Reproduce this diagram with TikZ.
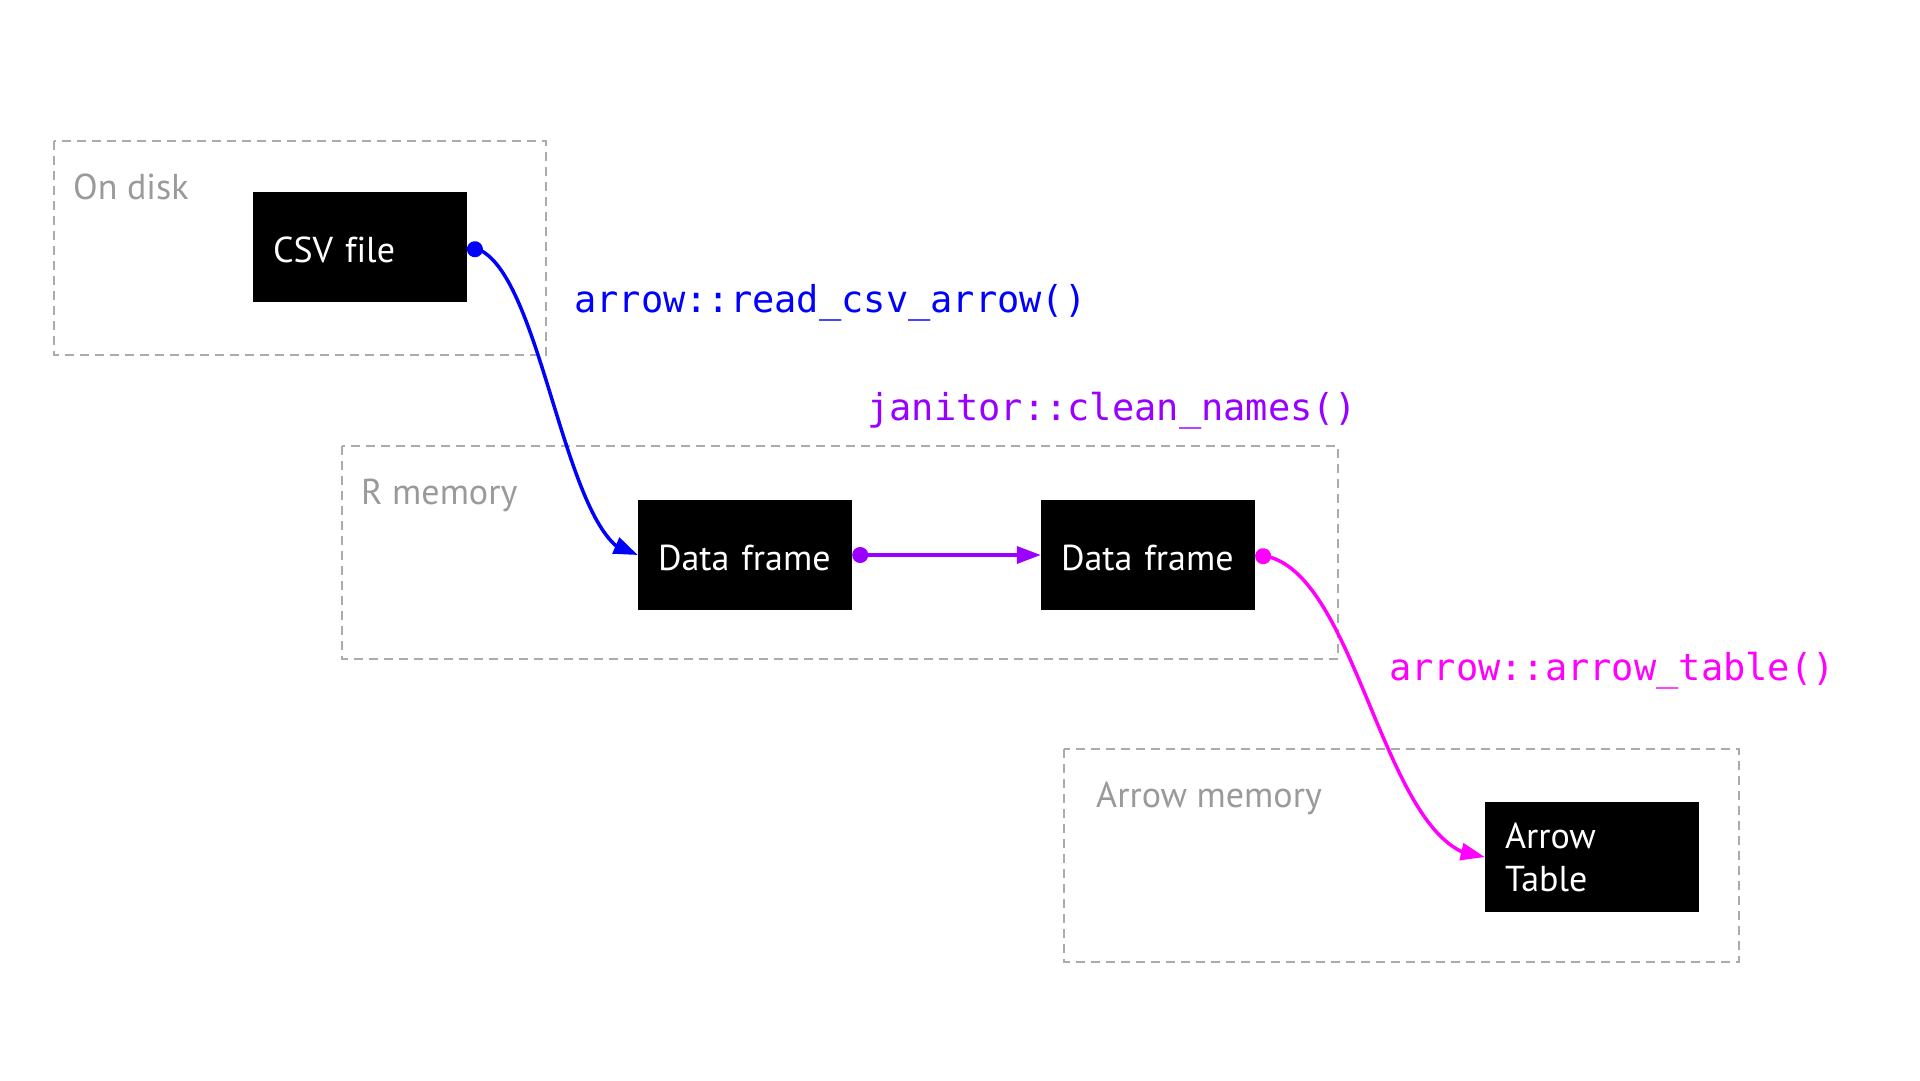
\documentclass[tikz,border=0pt]{standalone}
\usepackage{fontspec}
\setmainfont{PT Sans}[Ligatures=NoCommon]
\setmonofont{DejaVu Sans Mono}
\usetikzlibrary{arrows.meta,bending,positioning}
\definecolor{rblue}{HTML}{0000FF}
\definecolor{rpurple}{HTML}{9900FF}
\definecolor{rmagenta}{HTML}{FF00FF}
\definecolor{zonegray}{HTML}{ABABAB}
\definecolor{zonetext}{HTML}{9A9A9A}
\begin{document}
\begin{tikzpicture}[x=1pt,y=-1pt,node distance=403pt,
  font=\fontsize{36}{43}\selectfont,
  blk/.style={fill=black,text=white,minimum height=110pt,text width=174pt,inner xsep=20pt,align=left},
  oneline/.style={text height=30pt,text depth=0pt},
  zone/.style={draw=zonegray,line width=2pt,dash pattern=on 9pt off 6pt},
  zonelbl/.style={text=zonetext,anchor=base west,inner sep=0pt},
  fn/.style={font=\ttfamily\fontsize{37}{44}\selectfont,anchor=west,inner sep=0pt},
  link/.style={line width=3.5pt,{Circle[length=16pt]}-{Triangle[length=24pt,width=17pt]}}]
  \useasboundingbox (0,0) rectangle (1920,1080);
  \draw[zone] (54,141) rectangle (546,355);
  \draw[zone] (342,446) rectangle (1338,659);
  \draw[zone] (1064,749) rectangle (1739,962);
  \node[zonelbl] (disk) at (73,199) {On disk};
  \node[zonelbl] (rmem) at (361,504) {R memory};
  \node[zonelbl] (amem) at (1096,807) {Arrow memory};
  \node[blk,oneline] (csv) at (360,247) {CSV file};
  \node[blk,oneline] (df1) at (745,555) {Data frame};
  \node[blk,oneline,right of=df1] (df2) {Data frame};
  \node[blk] (tbl) at (1592,857) {Arrow\\Table};
  \node[fn,text=rblue] (readlbl) at (574,303) {arrow::read\_csv\_arrow()};
  \node[fn,text=rpurple] (cleanlbl) at (867,411) {janitor::clean\_names()};
  \node[fn,text=rmagenta] (tablelbl) at (1389,671) {arrow::arrow\_table()};
  \draw[link,rblue] (csv.east) to[out=0,in=180,looseness=0.55] (df1.west);
  \draw[link,rpurple] (df1.east) -- (df2.west);
  \draw[link,rmagenta] (df2.east) to[out=0,in=180,looseness=0.7] (tbl.west);
\end{tikzpicture}
\end{document}
